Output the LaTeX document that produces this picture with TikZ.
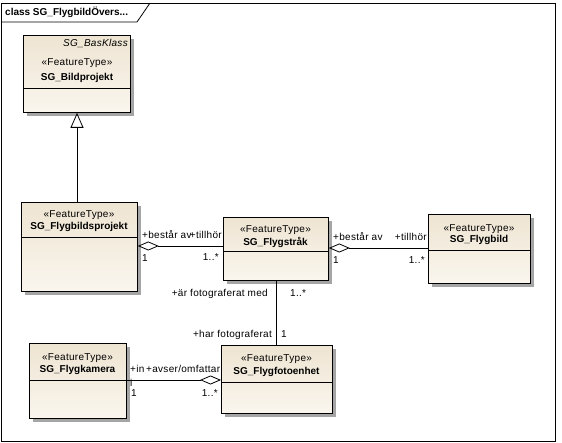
\documentclass[tikz,border=0pt]{standalone}
\usepackage{fontspec}
\setmainfont{Liberation Sans}
\newfontfamily\regsp[LetterSpace=3]{Liberation Sans}
\usetikzlibrary{arrows.meta,shadows}
\definecolor{boxtop}{RGB}{238,228,210}
\definecolor{boxbot}{RGB}{250,246,238}
\definecolor{shadowgray}{RGB}{165,165,165}
\begin{document}
\begin{tikzpicture}[x=1pt,y=-1pt,
  every node/.style={font=\fontsize{10}{12}\selectfont\regsp, inner sep=0pt},
  cls/.style={draw, line width=0.8pt, rectangle, anchor=north west, top color=boxtop, bottom color=boxbot,
    drop shadow={shadow xshift=3.5pt, shadow yshift=-3.5pt, fill=shadowgray, opacity=1}},
  ster/.style={anchor=base},
  cname/.style={anchor=base, font=\fontsize{10}{12}\selectfont\rmfamily\bfseries},
  lbl/.style={anchor=base west},
  lblr/.style={anchor=base east},
  conn/.style={line width=0.8pt},
  agg/.style={conn, {Diamond[open,length=21pt,width=9pt,line width=0.8pt]}-},
  aggend/.style={conn, -{Diamond[open,length=21pt,width=9pt,line width=0.8pt]}},
  gen/.style={conn, -{Triangle[open,length=15pt,width=13pt,line width=0.8pt]}}
]
\useasboundingbox (0,0) rectangle (562,443);
% frame
\draw[line width=0.8pt] (1,3) rectangle (555,441);
\draw[line width=0.8pt] (1,22) -- (137,22) -- (150,3);
\node[anchor=base west, font=\fontsize{10}{12}\selectfont\rmfamily\bfseries] (title) at (5,16) {class SG\_FlygbildÖvers...};

% SG_Bildprojekt
\node[cls, minimum width=107pt, minimum height=77pt] (bp) at (23,35) {};
\draw[line width=0.8pt] (23,88) -- (130,88);
\node[anchor=base east, font=\fontsize{10}{12}\selectfont\regsp\itshape] (bpbase) at (128,47) {SG\_BasKlass};
\node[ster] (bpst) at (77,66) {«FeatureType»};
\node[cname] (bpn) at (77,81) {SG\_Bildprojekt};

% SG_Flygbildsprojekt
\node[cls, minimum width=116pt, minimum height=89pt] (fbp) at (21,202) {};
\draw[line width=0.8pt] (21,237) -- (137,237);
\node[ster] (fbpst) at (79,218) {«FeatureType»};
\node[cname] (fbpn) at (79,230) {SG\_Flygbildsprojekt};

% SG_Flygstrak
\node[cls, minimum width=105pt, minimum height=63pt] (fs) at (223,217) {};
\draw[line width=0.8pt] (223,251) -- (328,251);
\node[ster] (fsst) at (275.5,233) {«FeatureType»};
\node[cname] (fsn) at (275.5,246) {SG\_Flygstråk};

% SG_Flygbild
\node[cls, minimum width=102pt, minimum height=69pt] (fb) at (428,214) {};
\draw[line width=0.8pt] (428,250) -- (530,250);
\node[ster] (fbst) at (479,232) {«FeatureType»};
\node[cname] (fbn) at (479,243) {SG\_Flygbild};

% SG_Flygkamera
\node[cls, minimum width=97pt, minimum height=75pt] (fk) at (29,343) {};
\draw[line width=0.8pt] (29,380) -- (126,380);
\node[ster] (fkst) at (77.5,360) {«FeatureType»};
\node[cname] (fkn) at (77.5,373) {SG\_Flygkamera};

% SG_Flygfotoenhet
\node[cls, minimum width=111pt, minimum height=68pt] (ff) at (221,345) {};
\draw[line width=0.8pt] (221,382) -- (332,382);
\node[ster] (ffst) at (276.5,362) {«FeatureType»};
\node[cname] (ffn) at (276.5,374) {SG\_Flygfotoenhet};

% connectors
\draw[gen] (fbp.north -| 77,0) -- (bp.south -| 77,0);
\draw[agg] (fbp.east |- 0,246) -- (fs.west |- 0,246);
\draw[agg] (fs.east |- 0,248) -- (fb.west |- 0,248);
\draw[conn] (fs.south -| 276,0) -- (ff.north -| 276,0);
\draw[aggend] (fk.east |- 0,380) -- (ff.west |- 0,380);

% labels
\node[lbl] (l1) at (142,239) {+består av};
\node[lblr] (l2) at (222,239) {+tillhör};
\node[lbl] (l3) at (142,262) {1};
\node[lblr] (l4) at (219,261) {1..*};

\node[lbl] (l5) at (333,241) {+består av};
\node[lblr] (l6) at (427,241) {+tillhör};
\node[lbl] (l7) at (333,264) {1};
\node[lblr] (l8) at (425,264) {1..*};

\node[lblr] (l9) at (268,297) {+är fotograferat med};
\node[lbl] (l10) at (290,297) {1..*};
\node[lblr] (l11) at (272,338) {+har fotograferat};
\node[lbl] (l12) at (281,338) {1};

\node[lbl] (l13) at (130,372) {+in};
\node[lbl] (l14) at (146,372) {+avser/omfattar};
\node[lbl] (l15) at (130,386) {i};
\node[lbl] (l16) at (131,396) {1};
\node[lblr] (l17) at (218,396) {1..*};
\end{tikzpicture}
\end{document}
